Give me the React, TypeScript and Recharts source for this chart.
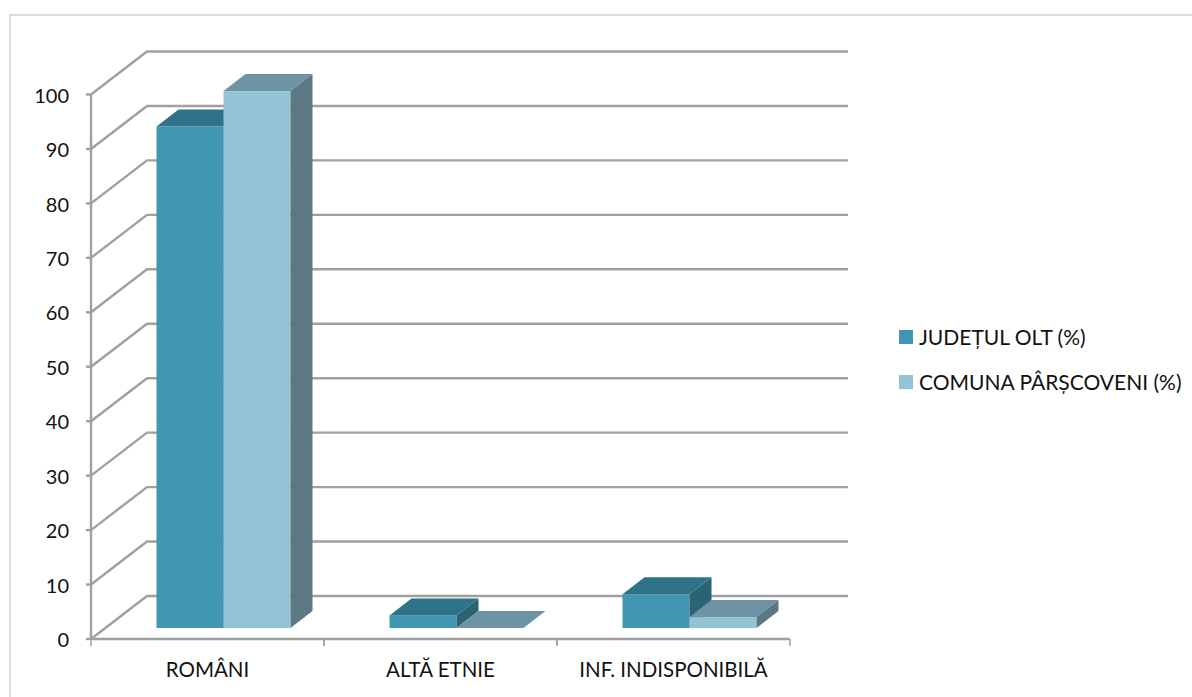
import React from "react";
import { BarChart, Bar, XAxis, YAxis, CartesianGrid, Legend } from "recharts";

const categories = ["ROMÂNI", "ALTĂ ETNIE", "INF. INDISPONIBILĂ"];
const judetValues = [92.1, 2.3, 6.2];
const comunaValues = [98.6, 0, 2.0];
const yTicks = [0, 10, 20, 30, 40, 50, 60, 70, 80, 90, 100];

const chartData = categories.map((name, i) => ({
  name,
  judet: judetValues[i],
  comuna: comunaValues[i],
}));

const FONT = "Lato, sans-serif";
const AXIS_COLOR = "#a0a0a0";
// depth of the back wall and of the bars
const WALL_DX = 56;
const WALL_DY = 43;
const BAR_DX = 22;
const BAR_DY = 17;
const BAR_SHIFT_X = 15.5;
const BAR_SHIFT_Y = 11;
const BAND = 233;

function Box3D(props: any, top: string, side: string) {
  const { fill, width, height } = props;
  const x = props.x + BAR_SHIFT_X;
  const y = props.y - BAR_SHIFT_Y;
  const r = x + width;
  const b = y + height;
  return (
    <g>
      <rect x={x} y={y} width={width} height={height} fill={fill} />
      <polygon points={`${x},${y} ${x + BAR_DX},${y - BAR_DY} ${r + BAR_DX},${y - BAR_DY} ${r},${y}`} fill={top} />
      <polygon points={`${r},${y} ${r + BAR_DX},${y - BAR_DY} ${r + BAR_DX},${b - BAR_DY} ${r},${b}`} fill={side} />
    </g>
  );
}

function WallLine(props: any) {
  const { x1, x2, y1 } = props;
  return (
    <g stroke={AXIS_COLOR} strokeWidth={2.4} fill="none">
      <polyline points={`${x1},${y1} ${x1 + WALL_DX},${y1 - WALL_DY} ${x2 + 58},${y1 - WALL_DY}`} />
    </g>
  );
}

function CategoryTick(props: any) {
  const { x, y, payload } = props;
  return (
    <g>
      <line x1={x - BAND / 2} x2={x - BAND / 2} y1={y - 8} y2={y - 1} stroke={AXIS_COLOR} strokeWidth={1.5} />
      <line x1={x + BAND / 2} x2={x + BAND / 2} y1={y - 8} y2={y - 1} stroke={AXIS_COLOR} strokeWidth={1.5} />
      <text x={x} y={y + 30} textAnchor="middle" fontFamily={FONT} fontSize={20.5} fill="#111">
        {payload.value}
      </text>
    </g>
  );
}

function LegendBox({ payload }: any) {
  return (
    <div style={{ fontFamily: FONT, fontSize: 21, color: "#111" }}>
      {(payload || []).map((p: any) => (
        <div key={p.value} style={{ display: "flex", alignItems: "center", height: 45, whiteSpace: "nowrap" }}>
          <span style={{ width: 14, height: 14, background: p.color, marginRight: 6 }} />
          {p.value}
        </div>
      ))}
    </div>
  );
}

export default function App() {
  return (
    <div
      style={{
        position: "absolute",
        left: 0,
        top: 0,
        width: 1192,
        height: 697,
        background: "#fff",
        overflow: "hidden",
      }}
    >
      <div
        style={{
          position: "absolute",
          left: 9,
          top: 14,
          width: 1192,
          height: 697,
          border: "2px solid #dcdcdc",
        }}
      />
      <BarChart
        width={1192}
        height={697}
        data={chartData}
        margin={{ top: 94.5, right: 402, bottom: 0, left: 31 }}
        barCategoryGap={49.5}
        barGap={0}
        style={{ position: "absolute", left: 0, top: 0 }}
      >
        <CartesianGrid vertical={false} horizontal={WallLine} syncWithTicks />
        <XAxis
          dataKey="name"
          height={58}
          stroke={AXIS_COLOR}
          strokeWidth={2.4}
          tickLine={false}
          tick={CategoryTick}
          interval={0}
        />
        <YAxis
          domain={[0, 100]}
          ticks={yTicks}
          width={60}
          stroke={AXIS_COLOR}
          strokeWidth={2.4}
          tickSize={5}
          tickMargin={17}
          tick={{ fontFamily: FONT, fontSize: 20, fill: "#111", dy: 1 }}
          interval={0}
        />
        <Legend
          layout="vertical"
          align="center"
          verticalAlign="middle"
          content={LegendBox}
          itemSorter={null}
          wrapperStyle={{ left: 899, top: 314, width: 290 }}
        />
        <Bar
          dataKey="judet"
          name="JUDEȚUL OLT (%)"
          fill="#4197b2"
          barSize={67}
          isAnimationActive={false}
          shape={(p: any) => Box3D(p, "#2f7388", "#2a6474")}
        />
        <Bar
          dataKey="comuna"
          name="COMUNA PÂRȘCOVENI (%)"
          fill="#93c3d5"
          barSize={67}
          isAnimationActive={false}
          shape={(p: any) => Box3D(p, "#6e94a4", "#5c7883")}
        />
      </BarChart>
    </div>
  );
}
